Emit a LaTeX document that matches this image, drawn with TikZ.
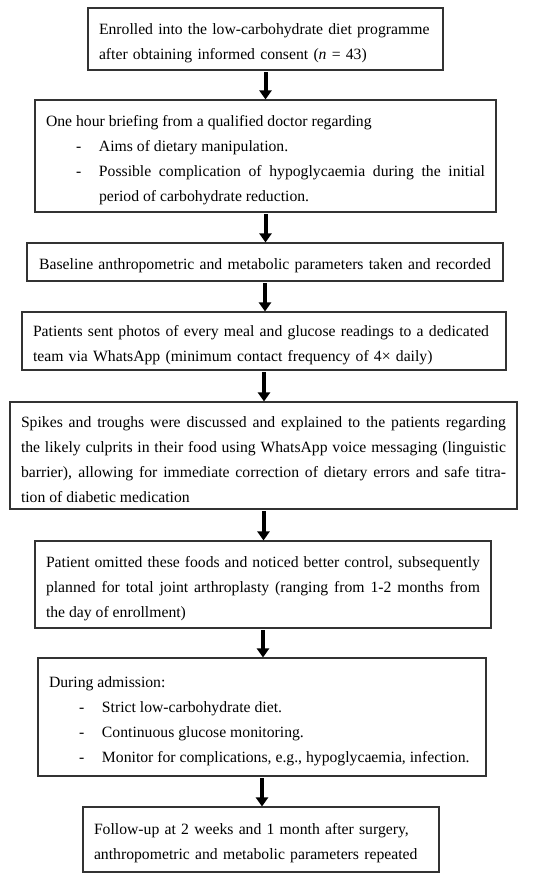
\documentclass[tikz,border=0pt]{standalone}
\usepackage{fontspec}
\setmainfont{Liberation Serif}
\usetikzlibrary{arrows.meta}

\newcommand\dashitem{\par\noindent\hangindent=53pt\hangafter=1
  \hspace*{30pt}\makebox[23pt][l]{-}}

\begin{document}
\begin{tikzpicture}[
    x=1pt, y=-1pt,
    box/.style={draw=black!80, line width=1.1pt, inner xsep=11pt, inner ysep=0pt,
      font=\fontsize{15.7}{25}\selectfont, execute at begin node={\rule{0pt}{19pt}}},
    flow/.style={line width=4pt, shorten <=1.5pt,
      -{Triangle[width=12pt,length=9pt]}}]
  \useasboundingbox (0,0) rectangle (550,877);
  % steps of the programme
  \node[box, text width=333pt, minimum height=62pt, align=left] (enrol) at (265.5,39)
    {Enrolled into the low-carbohydrate diet programme\\
     after obtaining informed consent (\textit{n} = 43)};
  \node[box, text width=439pt, minimum height=112pt, align=justify] (brief) at (265.5,156)
    {One hour briefing from a qualified doctor regarding
     \dashitem Aims of dietary manipulation.
     \dashitem Possible complication of hypoglycaemia during the initial\linebreak
       period of carbohydrate reduction.\par};
  \node[box, text width=454pt, minimum height=38pt, align=center] (base) at (265,262)
    {Baseline anthropometric and metabolic parameters taken and recorded};
  \node[box, text width=462pt, minimum height=58pt, align=left] (photo) at (264,341)
    {Patients sent photos of every meal and glucose readings to a dedicated\\
     team via WhatsApp (minimum contact frequency of 4× daily)};
  \node[box, text width=485pt, minimum height=107pt, align=justify] (spike) at (263.5,455.5)
    {Spikes and troughs were discussed and explained to the patients regarding\linebreak
     the likely culprits in their food using WhatsApp voice messaging (linguistic\linebreak
     barrier), allowing for immediate correction of dietary errors and safe titra-\linebreak
     tion of diabetic medication};
  \node[box, text width=434pt, minimum height=87pt, align=justify] (omit) at (263,584.5)
    {Patient omitted these foods and noticed better control, subsequently\linebreak
     planned for total joint arthroplasty (ranging from 1-2 months from\linebreak
     the day of enrollment)};
  \node[box, text width=426pt, minimum height=118pt, align=justify] (admit) at (262,717)
    {During admission:
     \dashitem Strict low-carbohydrate diet.
     \dashitem Continuous glucose monitoring.
     \dashitem Monitor for complications, e.g., hypoglycaemia, infection.\par};
  \node[box, text width=334pt, minimum height=65pt, align=left] (follow) at (261,839.5)
    {Follow-up at 2 weeks and 1 month after surgery,\\
     anthropometric and metabolic parameters repeated};
  % arrows
  \draw[flow] (enrol) -- (enrol |- brief.north);
  \draw[flow] (brief) -- (brief |- base.north);
  \draw[flow] (base) -- (base |- photo.north);
  \draw[flow] (photo) -- (photo |- spike.north);
  \draw[flow] (spike) -- (spike |- omit.north);
  \draw[flow] (omit) -- (omit |- admit.north);
  \draw[flow] (admit) -- (admit |- follow.north);
\end{tikzpicture}
\end{document}
